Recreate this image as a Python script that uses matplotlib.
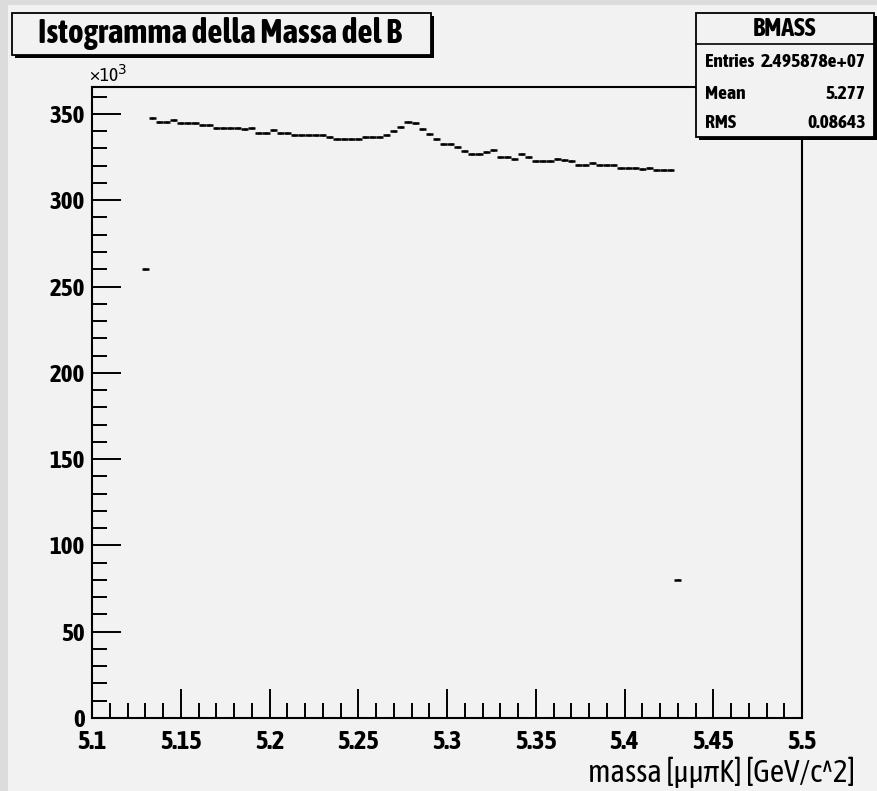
import numpy as np
import matplotlib
matplotlib.use("Agg")
import matplotlib.pyplot as plt
from matplotlib import font_manager
import matplotlib.patheffects as pe
from matplotlib.patches import Rectangle
from matplotlib.ticker import MultipleLocator, FuncFormatter

# ---------------- data ----------------
bin_edges_range = (5.1, 5.5)
n_bins = 100
first_bin_index = 7          # bin 5.128-5.132 (partial)
# counts per bin, starting at the 5.128 bin
counts = [
    260000,
    347400, 345100, 345100, 346500, 344500, 344500, 344500, 343700, 343700,
    341600, 341900, 341600, 341600, 341300, 341600, 339100, 339100, 340700,
    339100, 339100, 337800, 337800, 337800, 337800, 337800, 336800, 335300,
    335300, 335300, 335300, 336400, 336400, 336400, 337800, 339900, 342600,
    345100, 344500, 341200, 338400, 335300, 332600, 332600, 331100, 328800,
    326800, 326800, 327700, 329100, 325200, 325200, 324000, 326600, 325200,
    322900, 322900, 322900, 324100, 323500, 322700, 320400, 320400, 321300,
    320400, 320400, 320400, 318900, 318900, 318900, 318000, 318900, 317500,
    317500, 317500,
    80000,
]
title = "Istogramma della Massa del B"
stats_name = "BMASS"
stats_rows = [("Entries", "2.495878e+07"), ("Mean", "5.277"), ("RMS", "0.08643")]
xlabel = "massa [μμπK] [GeV/c^2]"
ymax = 365600

# ---------------- fonts ----------------
def _w(f):
    w = f.weight
    if isinstance(w, str):
        w = font_manager.weight_dict.get(w, 400)
    return w

entries = font_manager.fontManager.ttflist
narrow_any = [f for f in entries if ("Narrow" in f.name or "Condensed" in f.name)]
narrow_bold = [f for f in narrow_any if _w(f) >= 600]

def _pick(lst):
    lib = [f for f in lst if "Liberation" in f.name]
    return (lib or lst)[0].name

stroke = None
if narrow_bold:
    font = [_pick(narrow_bold), "Liberation Sans", "DejaVu Sans"]
    k = 1.0
elif narrow_any:
    font = [_pick(narrow_any), "Liberation Sans", "DejaVu Sans"]
    k = 1.0
    stroke = [pe.withStroke(linewidth=1.0, foreground="black")]
else:
    font = ["Liberation Sans", "DejaVu Sans"]
    k = 0.86

def bold_kw():
    d = dict(family=font, fontweight="bold")
    if stroke:
        d["path_effects"] = stroke
    return d

# ---------------- figure ----------------
W, H = 878, 791
fig = plt.figure(figsize=(W / 100, H / 100), dpi=100)
bg = "#f2f2f2"
fig.patch.set_facecolor(bg)

def fx(x):
    return x / W

def fy(y):
    return 1 - y / H

# window strips
fig.patches.append(Rectangle((0, 0), fx(8), 1, transform=fig.transFigure,
                             facecolor="#dcdcdc", edgecolor="none", zorder=0))
fig.patches.append(Rectangle((0, fy(5)), 1, 5 / H, transform=fig.transFigure,
                             facecolor="#dcdcdc", edgecolor="none", zorder=0))

ax_l, ax_r, ax_t, ax_b = 92, 802, 87, 718
ax = fig.add_axes([fx(ax_l), fy(ax_b), (ax_r - ax_l) / W, (ax_b - ax_t) / H])
ax.set_facecolor(bg)

lo, hi = bin_edges_range
bw = (hi - lo) / n_bins
edges = lo + bw * (first_bin_index + np.arange(len(counts)))
centers = edges + bw / 2
vals = np.array(counts, dtype=float)
ax.errorbar(centers, vals, xerr=bw / 2, yerr=np.sqrt(vals), fmt="none",
            ecolor="black", elinewidth=1.8, capsize=0)

ax.set_xlim(lo, hi)
ax.set_ylim(0, ymax)
for s in ax.spines.values():
    s.set_linewidth(1.5)
    s.set_color("black")

ax.xaxis.set_major_locator(MultipleLocator(0.05))
ax.xaxis.set_minor_locator(MultipleLocator(0.01))
ax.yaxis.set_major_locator(MultipleLocator(50000))
ax.yaxis.set_minor_locator(MultipleLocator(10000))
ax.xaxis.set_major_formatter(FuncFormatter(lambda v, p: f"{v:g}"))
ax.yaxis.set_major_formatter(FuncFormatter(lambda v, p: f"{v/1000:g}"))
ax.tick_params(axis="both", which="both", direction="in", top=False, right=False,
               width=1.4, color="black")
ax.tick_params(axis="both", which="major", length=21)
ax.tick_params(axis="both", which="minor", length=11)
ax.tick_params(axis="y", pad=5)
ax.tick_params(axis="x", pad=8)
for lab in ax.get_yticklabels():
    lab.set_fontsize(18 * k)
for lab in ax.get_xticklabels():
    lab.set_fontsize(19 * k)
for lab in ax.get_xticklabels() + ax.get_yticklabels():
    lab.set_family(font)
    lab.set_fontweight("bold")
    if stroke:
        lab.set_path_effects(stroke)

fig.text(fx(855), fy(773), xlabel, ha="right", va="center",
         family=font, fontsize=22.5 * (1.0 if k == 1.0 else 0.8))
fig.text(fx(89), fy(75), "×10$^3$", ha="left", va="center",
         family=font, fontsize=14 * k)

# boxes
def box(x0, y0, x1, y1):
    fig.patches.append(Rectangle((fx(x0 + 3), fy(y1 + 3)), (x1 - x0) / W, (y1 - y0) / H,
                                 transform=fig.transFigure, facecolor="black",
                                 edgecolor="none", zorder=5))
    fig.patches.append(Rectangle((fx(x0), fy(y1)), (x1 - x0) / W, (y1 - y0) / H,
                                 transform=fig.transFigure, facecolor=bg,
                                 edgecolor="black", linewidth=1.3, zorder=6))

box(12, 13, 431, 55)
fig.text(fx(38), fy(34), title, ha="left", va="center", fontsize=24 * k, zorder=7,
         **bold_kw())

box(696, 13, 874, 137)
fig.add_artist(plt.Line2D([fx(696), fx(874)], [fy(44), fy(44)],
                          transform=fig.transFigure, color="black", lw=1.2, zorder=7))
fig.text(fx(785), fy(28), stats_name, ha="center", va="center", fontsize=18.5 * k,
         zorder=7, **bold_kw())
fs_row = 14 * (1.0 if k == 1.0 else 0.8)
for (name, value), yy in zip(stats_rows, [62, 94, 123]):
    fig.text(fx(705), fy(yy), name, ha="left", va="center", fontsize=fs_row,
             zorder=7, **bold_kw())
    fig.text(fx(866), fy(yy), value, ha="right", va="center", fontsize=fs_row,
             zorder=7, **bold_kw())

fig.savefig("out.png", dpi=100, facecolor=fig.get_facecolor())
